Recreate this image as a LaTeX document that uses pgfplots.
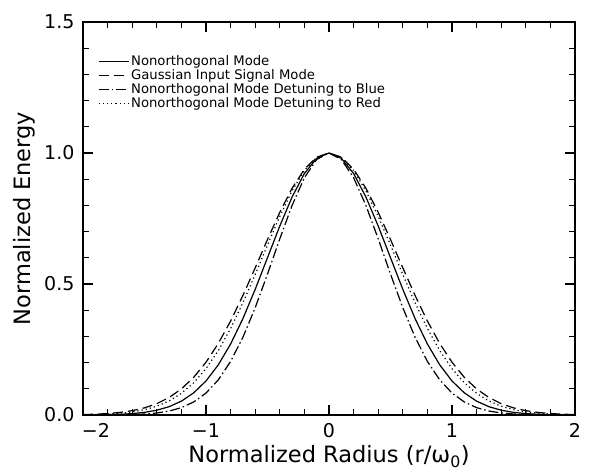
\documentclass[border=0pt]{standalone}
\usepackage{fontspec}
\setmainfont{DejaVu Sans}
\usepackage{pgfplots}
\pgfplotsset{compat=1.18}
\usepackage{pgfplotstable}

% x, solid (nonorthogonal), dashed (Gaussian input), dashdot (detuning blue), dotted (detuning red)
\pgfplotstableread{
x     s       g       b       r
-2.0  0.0003  0.0016  0.0000  0.0010
-1.9  0.0006  0.0031  0.0001  0.0019
-1.8  0.0013  0.0056  0.0003  0.0037
-1.7  0.0027  0.0098  0.0008  0.0067
-1.6  0.0054  0.0165  0.0017  0.0119
-1.5  0.0101  0.0272  0.0038  0.0203
-1.4  0.0183  0.0433  0.0077  0.0336
-1.3  0.0318  0.0667  0.0151  0.0536
-1.2  0.0529  0.0995  0.0281  0.0827
-1.1  0.0846  0.1439  0.0497  0.1231
-1.0  0.1299  0.2014  0.0837  0.1771
-0.9  0.1915  0.2731  0.1341  0.2460
-0.8  0.2709  0.3586  0.2045  0.3302
-0.7  0.3679  0.4561  0.2966  0.4281
-0.6  0.4797  0.5617  0.4095  0.5362
-0.5  0.6004  0.6699  0.5379  0.6487
-0.4  0.7214  0.7738  0.6725  0.7581
-0.3  0.8322  0.8657  0.8000  0.8557
-0.2  0.9216  0.9379  0.9056  0.9331
-0.1  0.9798  0.9841  0.9755  0.9828
 0.0  1.0000  1.0000  1.0000  1.0000
 0.1  0.9798  0.9841  0.9755  0.9828
 0.2  0.9216  0.9379  0.9056  0.9331
 0.3  0.8322  0.8657  0.8000  0.8557
 0.4  0.7214  0.7738  0.6725  0.7581
 0.5  0.6004  0.6699  0.5379  0.6487
 0.6  0.4797  0.5617  0.4095  0.5362
 0.7  0.3679  0.4561  0.2966  0.4281
 0.8  0.2709  0.3586  0.2045  0.3302
 0.9  0.1915  0.2731  0.1341  0.2460
 1.0  0.1299  0.2014  0.0837  0.1771
 1.1  0.0846  0.1439  0.0497  0.1231
 1.2  0.0529  0.0995  0.0281  0.0827
 1.3  0.0318  0.0667  0.0151  0.0536
 1.4  0.0183  0.0433  0.0077  0.0336
 1.5  0.0101  0.0272  0.0038  0.0203
 1.6  0.0054  0.0165  0.0017  0.0119
 1.7  0.0027  0.0098  0.0008  0.0067
 1.8  0.0013  0.0056  0.0003  0.0037
 1.9  0.0006  0.0031  0.0001  0.0019
 2.0  0.0003  0.0016  0.0000  0.0010
}\datatable

\begin{document}
\begin{tikzpicture}
\begin{axis}[
  scale only axis,
  width=492pt, height=393pt,
  xmin=-2, xmax=2, ymin=0, ymax=1.5,
  xtick={-2,-1,0,1,2},
  xticklabels={\makebox[0pt][l]{\hspace{-1pt}−2},−1,0,1,2},
  ytick={0,0.5,1,1.5},
  yticklabels={0.0,0.5,1.0,1.5},
  minor x tick num=4,
  minor y tick num=4,
  tick align=inside,
  major tick length=10pt,
  minor tick length=6pt,
  every tick/.style={black, line width=1.2pt},
  axis line style={line width=2.2pt},
  tick label style={font=\fontsize{19}{22}\selectfont},
  xticklabel style={yshift=-5pt},
  yticklabel style={xshift=-5pt},
  label style={font=\fontsize{22.5}{26}\selectfont},
  xlabel={Normalized Radius (r/ω\textsubscript{0})},
  ylabel={Normalized Energy},
  xlabel style={yshift=-1pt},
  ylabel style={yshift=2pt},
  legend style={at={(axis description cs:0.03,0.92)}, anchor=north west,
    draw=none, fill=none, font=\fontsize{13.2}{13.2}\selectfont,
    row sep=-1.5pt, inner xsep=0pt, inner ysep=0pt},
  legend cell align=left,
  legend image code/.code={\draw[#1] (0pt,0pt) -- (30pt,0pt);},
  every axis plot/.append style={line width=1.2pt, black},
]
\addplot[solid] table[x=x, y=s] {\datatable};
\addlegendentry{Nonorthogonal Mode}
\addplot[dash pattern=on 10pt off 5pt] table[x=x, y=g] {\datatable};
\addlegendentry{Gaussian Input Signal Mode}
\addplot[dash pattern=on 10pt off 3pt on 1.5pt off 3pt] table[x=x, y=b] {\datatable};
\addlegendentry{Nonorthogonal Mode Detuning to Blue}
\addplot[dash pattern=on 1.2pt off 3pt] table[x=x, y=r] {\datatable};
\addlegendentry{Nonorthogonal Mode Detuning to Red}
\end{axis}
\pgfresetboundingbox
\path (current axis.south west) ++(-83pt,-57pt) coordinate (bl);
\path (current axis.north east) ++(26pt,22pt) coordinate (tr);
\path[use as bounding box] (bl) rectangle (tr);
\end{tikzpicture}
\end{document}
